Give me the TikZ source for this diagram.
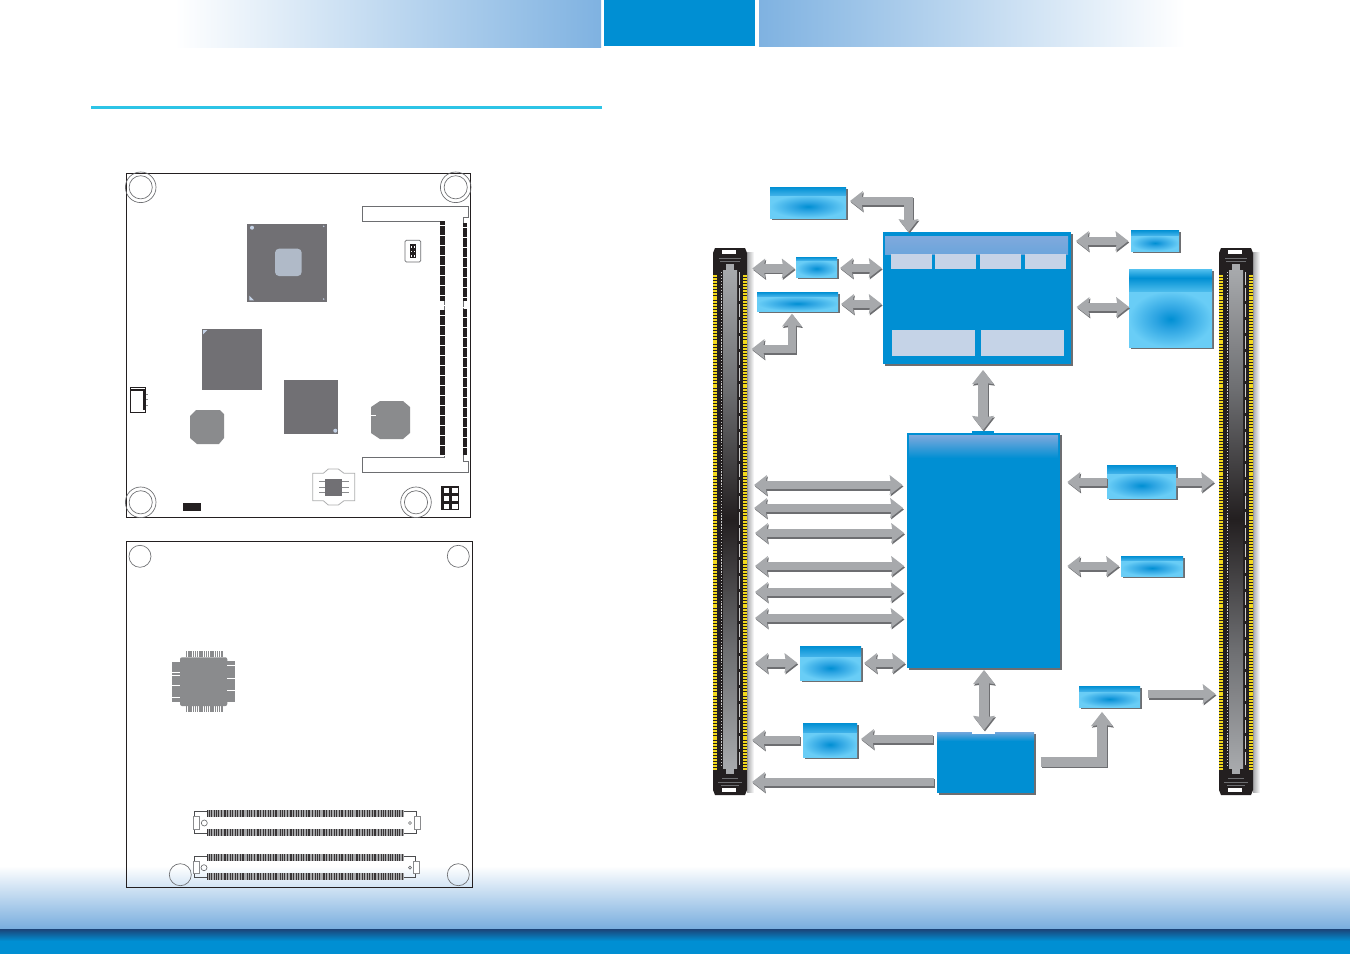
\documentclass[tikz,border=0pt]{standalone}
\usetikzlibrary{arrows.meta,fit,shadows}
\definecolor{deep}{HTML}{008FD3}
\definecolor{clight}{HTML}{69CDF6}
\definecolor{cmid}{HTML}{2CA4E2}
\definecolor{cell}{HTML}{C5D3E7}
\definecolor{headblue}{HTML}{7FB2E1}
\definecolor{footblue}{HTML}{78ADDE}
\definecolor{footdark}{HTML}{1B4478}
\definecolor{rule}{HTML}{2DC4E6}
\definecolor{fatgray}{HTML}{A7A9AC}
\definecolor{fatdark}{HTML}{6D6E71}
\definecolor{chipdark}{HTML}{717074}
\definecolor{chipmid}{HTML}{8A8B8D}
\definecolor{ink}{HTML}{231F20}
\definecolor{pinyellow}{HTML}{F2D81C}
\definecolor{bandlav}{HTML}{7FA9DD}
\pgfdeclareradialshading{glow}{\pgfpointorigin}{color(0bp)=(deep); color(9bp)=(cmid); color(25bp)=(clight); color(100bp)=(clight)}
\pgfdeclareverticalshading{conngray}{100bp}{color(0bp)=(fatgray); color(25bp)=(fatgray); color(37bp)=(fatdark); color(50bp)=(ink); color(63bp)=(fatdark); color(75bp)=(fatgray); color(100bp)=(fatgray)}
\pgfdeclareverticalshading{bigband}{100bp}{color(0bp)=(clight); color(25bp)=(clight!70!deep); color(55bp)=(deep); color(75bp)=(clight!80!deep); color(100bp)=(clight)}
\pgfdeclareverticalshading{lavband}{100bp}{color(0bp)=(deep); color(25bp)=(deep); color(75bp)=(bandlav); color(100bp)=(bandlav)}
\tikzset{
  lightbody/.style={inner sep=0pt,outer sep=0pt,fill=clight,
    general shadow={fill=fatdark,shadow xshift=1.4pt,shadow yshift=-1.4pt}},
  deepbody/.style={inner sep=0pt,outer sep=0pt,fill=deep,
    general shadow={fill=fatdark,shadow xshift=1.8pt,shadow yshift=-1.8pt}},
  portbody/.style={inner sep=0pt,outer sep=0pt},
  fatline/.style={line width=6.4pt,draw=fatgray,>={Stealth[length=9.5pt,width=14.5pt,inset=1pt]},line join=miter},
  fatthick/.style={line width=7.5pt,draw=fatgray,>={Stealth[length=10.5pt,width=16pt,inset=1pt]},line join=miter},
  board/.style={draw=ink,line width=0.6pt},
  hole/.style={draw=fatdark,line width=0.5pt},
  chipfill/.style={fill=chipdark},
  octfill/.style={fill=chipmid},
  cellbox/.style={fill=cell},
  pinstrip/.style={fill=ink},
}
% flat arrow: style, tips, path
\newcommand\fatarrow[3]{%
  \draw[#1,#2,draw=fatdark,transform canvas={shift={(0.7pt,-1.1pt)}}] #3;
  \draw[#1,#2] #3;}
\newcommand\lightbox[6]{%
  \node[lightbody,fit={(#2,#3)(#4,#5)}] (#1) {};
  \shade[shading=glow] (#2,#6) rectangle (#4,#5);
  \shade[top color=deep,bottom color=cmid!70!clight] (#2,#3) rectangle (#4,#6);}
\newcommand\portstrip[1]{%
  \begin{scope}[shift={(#1,0)}]
    \shade[left color=fatdark!60,right color=white] (34,252) rectangle (41,792);
    \fill[ink] (0,253)--(2,248)--(32,248)--(34,253)--(34,790)--(32,795)--(2,795)--(0,790)--cycle;
    \draw[pinyellow,line width=2.6pt,dash pattern=on 1.5pt off 0.7pt] (2,275)--(2,770);
    \draw[pinyellow,line width=2.6pt,dash pattern=on 1.5pt off 0.7pt] (32,275)--(32,770);
    \shade[shading=conngray] (10,270) rectangle (24,768);
    \fill[fatgray] (13,768) rectangle (21,774);
    \fill[fatgray] (13,270) rectangle (21,264);
    \draw[white!80!black,line width=0.35pt,dash pattern=on 1pt off 1.2pt] (8.5,272)--(8.5,766);
    \draw[white!80!black,line width=0.35pt,dash pattern=on 10pt off 2pt] (26,272)--(26,766);
    \fill[white] (9,250) rectangle (23,254);
    \fill[white] (9,788) rectangle (23,792);
    \draw[fatdark,line width=0.5pt] (6,258)--(28,258) (7,261)--(27,261);
    \draw[fatdark,line width=0.5pt] (5,782)--(29,782) (8,785)--(26,785) (9,778)--(25,778);
  \end{scope}}
\newcommand\sostrip[3]{%
  \fill[chipmid!75!white] (207.3,#1) rectangle (#3,#2);
  \draw[ink!80!chipmid,line width=5pt,dash pattern=on 0.35pt off 0.85pt on 0.35pt off 0.85pt on 0.35pt off 2pt on 0.35pt off 1.4pt on 0.35pt off 1.4pt on 0.35pt off 1.4pt on 0.35pt off 2pt]
    (207.3,{(#1+#2)/2})--(#3,{(#1+#2)/2});}
\begin{document}
\begin{tikzpicture}[x=0.75pt,y=-0.75pt]
\useasboundingbox (0,0) rectangle (1350,954);
\fill[white] (0,0) rectangle (1350,954);
% header and footer bands
\shade[left color=white,right color=headblue] (175,0) rectangle (601,47);
\fill[deep] (604,0) rectangle (755,46);
\shade[left color=headblue,right color=white] (759,0) rectangle (1185,46);
\fill[rule] (91,106) rectangle (602,109);
\shade[top color=white,bottom color=footblue] (0,866) rectangle (1350,929);
\shade[top color=footdark,bottom color=deep] (0,929) rectangle (1350,941);
\fill[deep] (0,941) rectangle (1350,954);

% ---------- upper board ----------
\draw[board] (126,173) rectangle (470.7,517.5);
\foreach \cx/\cy in {140.7/187.3,455.7/187.3,140.7/502.3,416/502.3}{
  \draw[hole] (\cx,\cy) circle[radius=15.3];
  \draw[hole] (\cx,\cy) circle[radius=11.6];
}
\fill[chipfill] (247,224) rectangle (327,301.7);
\fill[fill=cell!70!gray,rounded corners=3pt] (275,248.7) rectangle (301.7,276);
\fill[cell] (252,227.7) circle[radius=2];
\fill[cell] (323.7,226.3) circle[radius=0.8];
\fill[cell] (323.7,299) circle[radius=0.8];
\fill[cell] (249.3,295.7)--(254,300.3)--(249.3,300.3)--cycle;
\fill[chipfill] (202,329) rectangle (262,390);
\fill[cell] (203,330)--(207.3,330)--(203,334.3)--cycle;
\fill[chipfill] (284,380) rectangle (338,433.7);
\fill[cell] (335.3,430.7) circle[radius=2];
\fill[octfill] (190,416)--(196,410)--(220,410)--(224,414)--(224,438)--(219,444)--(197,444)--(190,438)--cycle;
\fill[octfill] (371,407)--(380,401)--(403,401)--(410,407)--(410,433)--(403,439)--(380,439)--(371,433)--cycle;
\draw[white,line width=0.5pt] (371,415)--(376,415);
% card slot frame
\draw[fatdark,line width=0.6pt] (362,206.3)--(468,206.3)--(468,217.3)--(463.3,217.3)--(463.3,461.7)--(468,461.7)--(468,472.3)--(362,472.3)--(362,457.3)--(444.7,457.3)--(444.7,221)--(362,221)--cycle;
\foreach \xa/\xb/\ya/\yb in {440/445/221/301,440/445/310/456,463.3/467/223/301,463.3/467/309/455}{
  \fill[pinstrip] (\xa,\ya) rectangle (\xb,\yb);
}
\draw[white,line width=3.6pt,dash pattern=on 0.5pt off 7pt] (442.5,225)--(442.5,456);
\draw[white,line width=2.6pt,dash pattern=on 0.5pt off 7pt] (465.2,227)--(465.2,454);
% small header
\draw[fatdark,line width=0.5pt,rounded corners=1pt] (405,240.3) rectangle (420.7,262);
\fill[ink] (410,244) rectangle (416,258);
\foreach \py in {246,250.5,255}{
  \fill[white] (410.8,\py) rectangle (412.3,\py+1.6);
  \fill[white] (413.8,\py) rectangle (415.3,\py+1.6);
}
% left small connector
\draw[ink,line width=0.7pt] (130,387.3) rectangle (145.7,412.7);
\draw[ink,line width=1pt] (131,390)--(144,390)--(144,410);
\draw[chipmid,line width=0.6pt] (145.7,394)--(148,394) (145.7,399.5)--(148,399.5) (145.7,405)--(148,405);
\fill[ink] (183,503) rectangle (201,510.7);
% pin header
\fill[ink] (441.3,485.7) rectangle (459,510);
\foreach \hx in {443.7,452.3}{
  \foreach \hy in {487.7,495.7,503.7}{
    \fill[white] (\hx,\hy) rectangle (\hx+5.3,\hy+5);
  }
}
% SOIC device
\draw[chipmid!70!white,line width=0.6pt] (312.7,473.3)--(323.3,473.3)--(328.3,469)--(338.3,469)--(344,473.3)--(354.7,473.3)--(354.7,500.7)--(344,500.7)--(338.3,505)--(328.3,505)--(323.3,500.7)--(312.7,500.7)--cycle;
\draw[chipmid,line width=0.5pt] (319,481.7)--(325,481.7) (319,487.5)--(325,487.5) (319,492.7)--(325,492.7) (342,481.7)--(349,481.7) (342,487.5)--(349,487.5) (342,492.7)--(349,492.7);
\fill[chipfill] (325,479) rectangle (342,496.3);

% ---------- lower board ----------
\draw[board] (126,541) rectangle (472.7,887.3);
\foreach \cx/\cy in {140/556.3,458.3/556.3,180.3/874.7,458.3/874.7}{
  \draw[hole] (\cx,\cy) circle[radius=11];
}
\fill[octfill,rounded corners=1.5pt] (180,657.3) rectangle (227.3,706);
\fill[octfill] (172.3,661.7) rectangle (180.5,701.7);
\fill[octfill] (227,661) rectangle (235,701.7);
\draw[white,line width=0.5pt] (172,672.3)--(180,672.3) (172,675.7)--(180,675.7) (172,685)--(180,685) (172,697.3)--(180,697.3)
  (227.3,665)--(235,665) (227.3,678.3)--(235,678.3) (227.3,690)--(235,690);
\draw[chipmid,line width=4.7pt,dash pattern=on 1pt off 0.65pt] (186,654.1)--(222.7,654.1);
\draw[chipmid,line width=4.7pt,dash pattern=on 1pt off 0.65pt] (186,709.3)--(222.7,709.3);
\sostrip{810}{817}{404}
\sostrip{829}{835.7}{404}
\sostrip{854.3}{861}{403.5}
\sostrip{873.3}{880}{403.5}
\draw[fatdark!70!black,line width=0.5pt] (207.3,811.7)--(194,811.7)--(194,833.3)--(207.3,833.3) (404,811.7)--(416.7,811.7)--(416.7,833.3)--(404,833.3);
\draw[fatdark!70!black,line width=0.5pt] (207.3,856.3)--(194,856.3)--(194,877.7)--(207.3,877.7) (403.5,856.3)--(415.7,856.3)--(415.7,877.7)--(403.5,877.7);
\foreach \ra/\rb/\rc/\rd in {193.3/816.7/199.3/829,414/816.7/420.3/829,193.3/861.7/199.3/873.3,413.7/861.7/419.7/873.3}{
  \filldraw[fill=white,draw=chipmid,line width=0.5pt] (\ra,\rb) rectangle (\rc,\rd);
}
\draw[hole] (204.3,823) circle[radius=3];
\draw[hole] (410,823) circle[radius=1.5];
\draw[hole] (204,867.7) circle[radius=3];
\draw[hole] (410,867.7) circle[radius=1.5];

% ---------- block diagram ----------
\portstrip{713}
\portstrip{1219}
\node[portbody,fit={(713,248)(747,795)}] (portL) {};
\node[portbody,fit={(1219,248)(1253,795)}] (portR) {};

\lightbox{flash}{770}{187}{846}{218}{195}
\lightbox{small}{796}{257}{837}{277}{260}
\lightbox{wide}{757}{292}{838}{311}{296}
\lightbox{rtop}{1131}{230}{1179}{251}{235}
\node[lightbody,fit={(1129,269)(1212,347)}] (rbig) {};
\shade[shading=glow] (1129,291) rectangle (1212,347);
\shade[shading=bigband] (1129,269) rectangle (1212,291);
\lightbox{rmid}{1107}{465}{1176}{498}{473}
\lightbox{rlow}{1121}{556}{1183}{576}{560}
\lightbox{aud}{800}{646}{861}{680}{656}
\lightbox{low}{803}{723}{857}{757}{732}
\lightbox{rbot}{1079}{686}{1140}{707}{691}

\node[deepbody,fit={(883,232)(1071,364)}] (top) {};
\shade[top color=bandlav,bottom color=bandlav!85!deep] (885,236) rectangle (1068,254);
\foreach \ca/\cb in {891/932,935/976,980/1021,1025/1066}{
  \fill[cellbox] (\ca,254) rectangle (\cb,269);
}
\fill[cellbox] (892,330) rectangle (975,356);
\fill[cellbox] (981,330) rectangle (1064,356);

\node[deepbody,fit={(907,433)(1060,668)}] (mid) {};
\shade[shading=lavband] (909,435) rectangle (1058,458);
\fill[deep] (972,431) rectangle (994,435);

\node[deepbody,fit={(937,732)(1034,793)}] (south) {};
\shade[top color=bandlav!90!deep,bottom color=deep] (937,732) rectangle (1034,741);
\fill[white] (972,730) rectangle (995,733.5);

% arrows
\fatarrow{fatline}{<->,shorten <=3pt}{(flash.east |- 0,201) -| (top.north -| 908.5,0)}
\fatarrow{fatline}{<->,shorten <=4pt,shorten >=1pt}{(portL.east |- 0,268.5) -- (small.west |- 0,268.5)}
\fatarrow{fatline}{<->,shorten <=2.3pt,shorten >=1pt}{(small.east |- 0,268) -- (top.west |- 0,268)}
\fatarrow{fatline}{<->,shorten <=2.3pt,shorten >=1pt}{(wide.east |- 0,304) -- (top.west |- 0,304)}
\fatarrow{fatline}{<->,shorten <=3.5pt,shorten >=2pt}{(portL.east |- 0,349) -| (wide.south -| 792,0)}
\fatarrow{fatthick}{<->,shorten <=4.5pt,shorten >=2.2pt}{(top.south -| 983,0) -- (mid.north -| 983,0)}
\fatarrow{fatline}{<->,shorten <=3.7pt,shorten >=2pt}{(top.east |- 0,241) -- (rtop.west |- 0,241)}
\fatarrow{fatline}{<->,shorten <=4.2pt,shorten >=0pt}{(top.east |- 0,307) -- (rbig.west |- 0,307)}
\foreach \by/\sa/\sb in {485/5.3/3.4,508/5.3/3.0,533/6/2.2,566/6/2.2,592/6/2.6,618/6/2.6}{
  \fatarrow{fatline}{<->,shorten <=\sa pt,shorten >=\sb pt}{(portL.east |- 0,\by) -- (mid.west |- 0,\by)}
}
\fatarrow{fatline}{<->,shorten <=6pt,shorten >=2pt}{(portL.east |- 0,663) -- (aud.west |- 0,663)}
\fatarrow{fatline}{<->,shorten <=2.3pt,shorten >=1.5pt}{(aud.east |- 0,663) -- (mid.west |- 0,663)}
\fatarrow{fatthick}{<->,shorten <=1.5pt,shorten >=1.5pt}{(mid.south -| 984,0) -- (south.north -| 984,0)}
\fatarrow{fatline}{->,shorten <=3pt,shorten >=3pt}{(south.west |- 0,739) -- (low.east |- 0,739)}
\fatarrow{fatline}{->,shorten <=2pt,shorten >=3.8pt}{(low.west |- 0,740) -- (portL.east |- 0,740)}
\fatarrow{fatline}{->,shorten <=2.2pt,shorten >=3.8pt}{(south.west |- 0,782) -- (portL.east |- 0,782)}
\fatarrow{fatthick}{->,shorten <=5pt,shorten >=3.7pt}{(south.east |- 0,762) -| (rbot.south -| 1102,0)}
\fatarrow{fatline}{->,shorten <=6pt,shorten >=2.6pt}{(rbot.east |- 0,694) -- (portR.west |- 0,694)}
\fatarrow{fatline}{<-,shorten <=5.5pt}{(mid.east |- 0,482) -- (rmid.west |- 0,482)}
\fatarrow{fatline}{->,shorten >=3.7pt}{(rmid.east |- 0,482) -- (portR.west |- 0,482)}
\fatarrow{fatline}{<->,shorten <=5.5pt,shorten >=1.5pt}{(mid.east |- 0,566) -- (rlow.west |- 0,566)}
\end{tikzpicture}
\end{document}
